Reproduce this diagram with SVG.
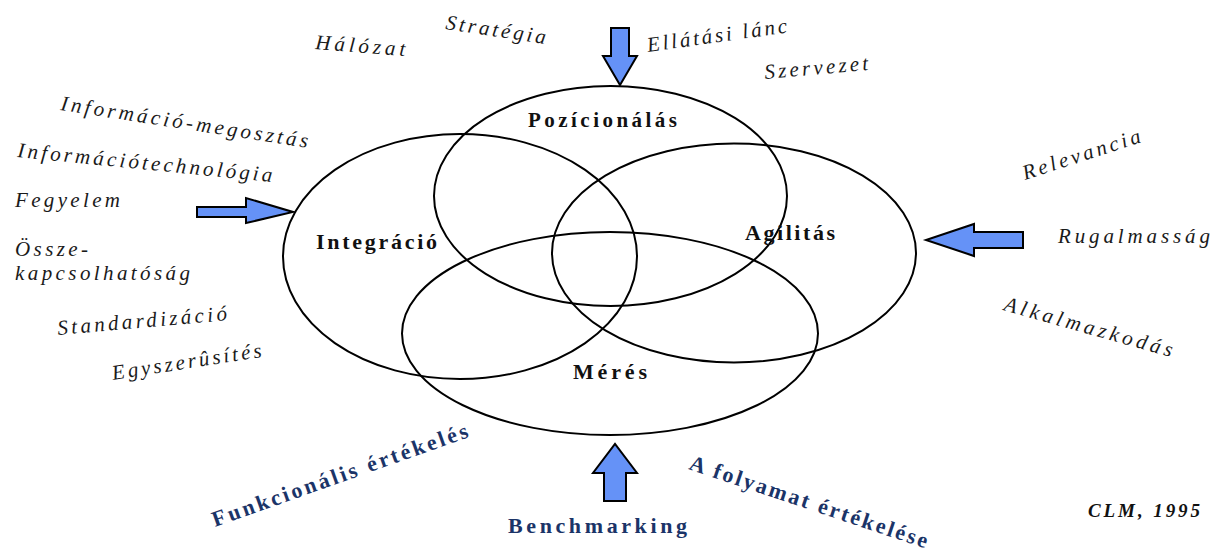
<svg xmlns="http://www.w3.org/2000/svg" width="1212" height="554" viewBox="0 0 1212 554">
<style>
.bg{fill:#ffffff}
.ell{fill:none;stroke:#000;stroke-width:2}
.arr{fill:#6592F7;stroke:#000;stroke-width:2;stroke-linejoin:miter}
.it{font-family:"Liberation Serif","Times New Roman",serif;font-style:italic;font-size:21px;fill:#1a1a1a}
.lb{font-family:"Liberation Serif","Times New Roman",serif;font-weight:bold;font-size:22px;fill:#111}
.bl{font-family:"Liberation Serif","Times New Roman",serif;font-weight:bold;font-size:22px;fill:#1B3468}
.cl{font-family:"Liberation Serif","Times New Roman",serif;font-weight:bold;font-style:italic;font-size:19px;fill:#111}
</style>
<rect class="bg" x="0" y="0" width="1212" height="554"/>
<g id="nodes">
  <g id="integracio">
    <ellipse class="ell" cx="460" cy="256.5" rx="177" ry="122.5"/>
    <text class="lb" x="316" y="249" textLength="121" lengthAdjust="spacing">Integráció</text>
  </g>
  <g id="pozicionalas">
    <ellipse class="ell" cx="610.5" cy="196" rx="176.5" ry="110"/>
    <text class="lb" x="528" y="127" textLength="149" lengthAdjust="spacing" style="font-size:21px">Pozícionálás</text>
  </g>
  <g id="agilitas">
    <ellipse class="ell" cx="734" cy="253" rx="182" ry="109.5"/>
    <text class="lb" x="745" y="240" textLength="90" lengthAdjust="spacing">Agilitás</text>
  </g>
  <g id="meres">
    <ellipse class="ell" cx="610" cy="333.5" rx="208" ry="101.5"/>
    <text class="lb" x="573" y="379" textLength="74" lengthAdjust="spacing">Mérés</text>
  </g>
</g>
<g id="connectors">
  <polygon id="arrow-top" class="arr" points="611,28 629,28 629,56 637,56 620,85 603,56 611,56"/>
  <polygon id="arrow-left" class="arr" points="197,207 246,207 246,198 293,212 246,223 246,217 197,217"/>
  <polygon id="arrow-right" class="arr" points="1023,232 974,232 974,224 926,240 974,256 974,248 1023,248"/>
  <polygon id="arrow-bottom" class="arr" points="604,501 626,501 626,473 637,473 615,444 593,473 604,473"/>
</g>
<g id="labels-top">
  <text class="it" x="315" y="49" transform="rotate(4.5 315 49)" textLength="90" lengthAdjust="spacing">Hálózat</text>
  <text class="it" x="445" y="29" transform="rotate(8.5 445 29)" textLength="101" lengthAdjust="spacing">Stratégia</text>
  <text class="it" x="648" y="52" transform="rotate(-8 648 52)" textLength="141" lengthAdjust="spacing">Ellátási lánc</text>
  <text class="it" x="765" y="79" transform="rotate(-5 765 79)" textLength="104" lengthAdjust="spacing">Szervezet</text>
</g>
<g id="labels-left">
  <text class="it" x="60" y="110" transform="rotate(8.7 60 110)" textLength="250" lengthAdjust="spacing">Információ-megosztás</text>
  <text class="it" x="17" y="157" transform="rotate(5.6 17 157)" textLength="256" lengthAdjust="spacing">Információtechnológia</text>
  <text class="it" x="15" y="207" textLength="105" lengthAdjust="spacing">Fegyelem</text>
  <text class="it" x="15" y="256" textLength="73" lengthAdjust="spacing">Össze-</text>
  <text class="it" x="15" y="280" textLength="175" lengthAdjust="spacing">kapcsolhatóság</text>
  <text class="it" x="58" y="335" transform="rotate(-5 58 335)" textLength="170" lengthAdjust="spacing">Standardizáció</text>
  <text class="it" x="113" y="380" transform="rotate(-8.8 113 380)" textLength="151" lengthAdjust="spacing">Egyszerûsítés</text>
</g>
<g id="labels-right">
  <text class="it" x="1025" y="180" transform="rotate(-18 1025 180)" textLength="123" lengthAdjust="spacing">Relevancia</text>
  <text class="it" x="1058" y="243" textLength="152" lengthAdjust="spacing">Rugalmasság</text>
  <text class="it" x="1003" y="310" transform="rotate(15.7 1003 310)" textLength="174" lengthAdjust="spacing">Alkalmazkodás</text>
</g>
<g id="labels-bottom">
  <text class="bl" x="215" y="527" transform="rotate(-19.5 215 527)" textLength="270" lengthAdjust="spacing">Funkcionális értékelés</text>
  <text class="bl" x="508" y="533" textLength="179" lengthAdjust="spacing">Benchmarking</text>
  <text class="bl" x="688" y="469" transform="rotate(18.5 688 469)" textLength="250" lengthAdjust="spacing">A folyamat értékelése</text>
  <text class="cl" x="1088" y="517" textLength="112" lengthAdjust="spacing">CLM, 1995</text>
</g>
</svg>
